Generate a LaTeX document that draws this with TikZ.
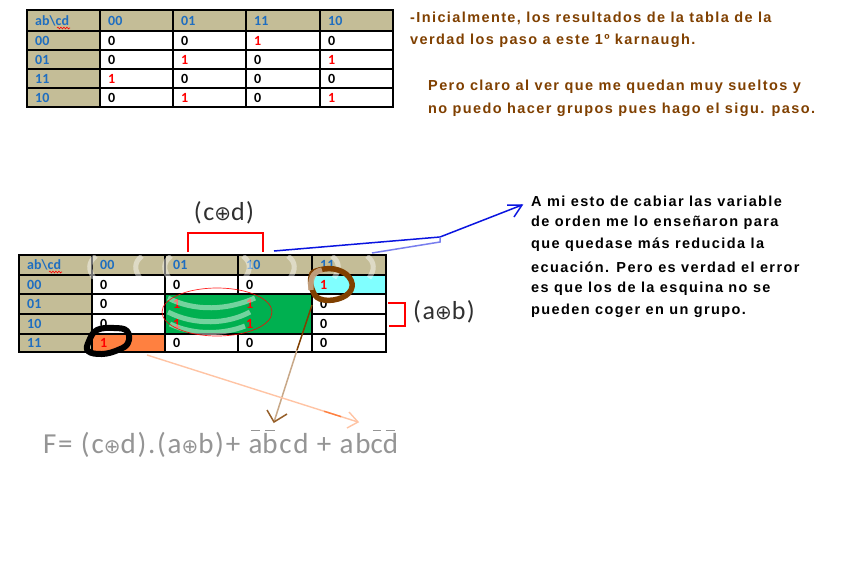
\documentclass[tikz,border=0pt]{standalone}
\usepackage{fontspec}
\setmainfont{Carlito}
\newfontfamily\paint[LetterSpace=9.6]{Liberation Sans}
\newfontfamily\calw[LetterSpace=6]{Carlito}
\newfontfamily\symf{DejaVu Sans}
\usetikzlibrary{arrows.meta,decorations.pathmorphing,calc}
\definecolor{hdtan}{HTML}{C4BD97}
\definecolor{hblue}{HTML}{1F6EC0}
\definecolor{kred}{HTML}{FF0000}
\definecolor{brn}{HTML}{804000}
\definecolor{kgreen}{HTML}{00B050}
\definecolor{kcyan}{HTML}{80FFFF}
\definecolor{korange}{HTML}{FF8040}
\definecolor{fgray}{HTML}{959595}
\definecolor{dgray}{HTML}{303030}
\definecolor{peach}{HTML}{FFC4A4}
\definecolor{lbrn}{HTML}{C8A888}
\definecolor{kblue}{HTML}{0A14E0}
\newcommand\kv[1]{\ifnum#1=1 \textcolor{kred}{1}\else 0\fi}
\newcommand\oplusx{{\symf\fontsize{20}{20}\selectfont ⊕}}
\newcommand\ob[1]{\setbox0\hbox{#1}\rlap{\hskip0.18\wd0\raise0.76em\hbox{\rule{0.64\wd0}{0.05em}}}#1}
\begin{document}
\begin{tikzpicture}[x=1pt,y=-1pt,
  hd/.style={anchor=west,inner sep=0pt,font=\fontsize{14}{14}\selectfont\bfseries,text=hblue},
  cv/.style={anchor=west,inner sep=0pt,font=\fontsize{14}{14}\selectfont\bfseries,text=black},
  grid/.style={draw=black,line width=1.3pt},
  brtxt/.style={anchor=west,inner sep=0pt,font=\paint\bfseries\fontsize{14.5}{15}\selectfont,text=brn},
  bltxt/.style={anchor=west,inner sep=0pt,font=\paint\bfseries\fontsize{14.5}{15}\selectfont,text=black},
  big/.style={inner sep=0pt,font=\calw\fontsize{26}{26}\selectfont,text=dgray},
  wavy/.style={draw=kred,line width=0.6pt,decorate,decoration={snake,amplitude=0.9pt,segment length=3pt}},
  wm/.style={draw=white,opacity=0.45,line width=5pt}
]
\useasboundingbox (0,0) rectangle (860,563);
\fill[white] (0,0) rectangle (860,563);

% ---------- Table 1 ----------
\fill[hdtan] (27,10) rectangle (393,31);
\fill[hdtan] (27,31) rectangle (100,107);
\draw[grid] (27,10) rectangle (393,107);
\foreach \x in {100,173,246,320} \draw[grid] (\x,10) -- (\x,107);
\foreach \y in {31,50,69,88} \draw[grid] (27,\y) -- (393,\y);
\node[hd] (ta-h0) at (35,20.5) {ab\textbackslash cd};
\draw[wavy] (57,28) -- (70,28);
\node[hd] (ta-h1) at (108,20.5) {00};
\node[hd] (ta-h2) at (181,20.5) {01};
\node[hd] (ta-h3) at (254,20.5) {11};
\node[hd] (ta-h4) at (328,20.5) {10};
\foreach \lab/\y/\a/\b/\c/\d [count=\i] in {00/40.5/0/0/1/0, 01/59.5/0/1/0/1, 11/78.5/1/0/0/0, 10/97.5/0/1/0/1} {
  \node[hd] (ta-r\i) at (35,\y) {\lab};
  \node[cv] (ta-\i-1) at (108,\y) {\kv{\a}};
  \node[cv] (ta-\i-2) at (181,\y) {\kv{\b}};
  \node[cv] (ta-\i-3) at (254,\y) {\kv{\c}};
  \node[cv] (ta-\i-4) at (328,\y) {\kv{\d}};
}

% ---------- Top right text ----------
\node[brtxt] (p1) at (410,18) {-Inicialmente, los resultados de la tabla de la};
\node[brtxt] (p2) at (410,41) {verdad los paso a este 1º karnaugh.};
\node[brtxt] (p3) at (428,87) {Pero claro al ver que me quedan muy sueltos y};
\node[brtxt] (p4) at (428,110) {no puedo hacer grupos pues hago el sigu. paso.};

% ---------- Table 2 ----------
\fill[hdtan] (19,255) rectangle (386,275);
\fill[hdtan] (19,275) rectangle (92,352);
\fill[kcyan] (312,275) rectangle (386,294);
\fill[korange] (92,334) rectangle (165,352);
\draw[grid] (19,255) rectangle (386,352);
\foreach \x in {92,165,238,312} \draw[grid] (\x,255) -- (\x,352);
\foreach \y in {275,294,314,334} \draw[grid] (19,\y) -- (386,\y);
\fill[kgreen] (165,294) rectangle (312,334);
\draw[grid] (165,294) rectangle (312,334);
\node[hd] (tb-h0) at (27,265) {ab\textbackslash cd};
\draw[wavy] (49,272) -- (62,272);
\node[hd] (tb-h1) at (100,265) {00};
\node[hd] (tb-h2) at (173,265) {01};
\node[hd] (tb-h3) at (246,265) {10};
\node[hd] (tb-h4) at (320,265) {11};
\foreach \lab/\y/\a/\b/\c/\d [count=\i] in {00/284.5/0/0/0/1, 01/304/0/1/1/0, 10/324/0/1/1/0, 11/343/1/0/0/0} {
  \node[hd] (tb-r\i) at (27,\y) {\lab};
  \node[cv] (tb-\i-1) at (100,\y) {\kv{\a}};
  \node[cv] (tb-\i-2) at (173,\y) {\kv{\b}};
  \node[cv] (tb-\i-3) at (246,\y) {\kv{\c}};
  \node[cv] (tb-\i-4) at (320,\y) {\kv{\d}};
}

% watermark arcs
\begin{scope}
\clip (19,255) rectangle (386,352);
\foreach \x in {90,136,165} \draw[wm] (\x+6,256) .. controls (\x-2,262) and (\x-2,270) .. (\x+4,278);
\foreach \x in {249,294,338,373} \draw[wm] (\x-6,256) .. controls (\x+2,262) and (\x+2,270) .. (\x-4,278);
\draw[wm] (168,298) .. controls (195,312) and (228,310) .. (255,298);
\draw[wm] (168,312) .. controls (195,326) and (228,324) .. (250,312);
\draw[wm] (170,324) .. controls (195,336) and (225,334) .. (245,326);
\end{scope}

% red ellipse
\draw[kred,line width=0.7pt,opacity=0.85] (217,312) ellipse [x radius=55, y radius=24];

% black blob
\draw[black,line width=6pt,line join=round] plot[smooth cycle,tension=0.7] coordinates {(89,341) (97,330) (114,328) (127,331) (128,343) (118,350) (102,354) (88,351)};
% brown loop
\draw[brn,line width=5.5pt,line join=round] plot[smooth cycle,tension=0.7] coordinates {(316,271) (334,269) (349,277) (351,290) (338,299) (320,299) (312,289) (311,277)};
\draw[lbrn,line width=5.5pt,opacity=0.9] (311,290) .. controls (310,280) and (312,272) .. (322,270);

% brackets and labels
\coordinate (bc1) at (188,252); \coordinate (bc2) at (188,233);
\coordinate (bc3) at (263,233); \coordinate (bc4) at (263,252);
\draw[kred,line width=2pt] (bc1) -- (bc2) -- (bc3) -- (bc4);
\node[big] (cd) at (224,213) {(c\oplusx d)};
\coordinate (ba1) at (388,303); \coordinate (ba2) at (405,303);
\coordinate (ba3) at (405,326); \coordinate (ba4) at (389,326);
\draw[kred,line width=2pt] (ba1) -- (ba2) -- (ba3) -- (ba4);
\node[big] (ab) at (444,312) {(a\oplusx b)};

% blue arrow
\coordinate (bl0) at (274,251); \coordinate (bl1) at (440,237);
\coordinate (bl2) at (372,253); \coordinate (bl3) at (440,242);
\coordinate (blt) at (522,205);
\coordinate (bla) at (507,205); \coordinate (blb) at (514,217);
\draw[kblue,line width=1.5pt] (bl0) -- (bl1) -- (blt);
\draw[kblue!55,line width=1.5pt] (bl2) -- (bl3) -- (bl1);
\draw[kblue,line width=1.5pt] (bla) -- (blt) -- (blb);

% right black text
\node[bltxt] (q1) at (531,201) {A mi esto de cabiar las variable};
\node[bltxt] (q2) at (531,223) {de orden me lo enseñaron para};
\node[bltxt] (q3) at (531,245) {que quedase más reducida la};
\node[bltxt] (q4) at (531,267) {ecuación. Pero es verdad el error};
\node[bltxt] (q5) at (531,289) {es que los de la esquina no se};
\node[bltxt] (q6) at (531,311) {pueden coger en un grupo.};

% brown arrow
\coordinate (br0) at (312,305); \coordinate (brm) at (297,350);
\coordinate (brt) at (274,422);
\coordinate (bra) at (267,410); \coordinate (brb) at (287,414);
\draw[brn,line width=1.5pt] (br0) -- (brm);
\draw[lbrn,line width=1.5pt] (brm) -- (brt);
\draw[brn!70!lbrn,line width=1.5pt] (bra) -- (brt) -- (brb);

% peach arrow
\coordinate (pe0) at (147,355); \coordinate (pet) at (358,422);
\coordinate (pea) at (349,412); \coordinate (peb) at (347,428);
\draw[peach,line width=1.4pt] (pe0) -- (pet);
\draw[korange,line width=1.4pt] ($(pe0)!0.84!(pet)$) -- ($(pe0)!0.92!(pet)$);
\draw[peach,line width=1.4pt] (pea) -- (pet) -- (peb);

% formula
\node[inner sep=0pt,anchor=base west,font=\calw\fontsize{29}{29}\selectfont,text=fgray] (F) at (43,453)
  {F= (c\oplusx d).(a\oplusx b)+ \ob{a}\ob{b}cd + ab\ob{c}\ob{d}};
\end{tikzpicture}
\end{document}
